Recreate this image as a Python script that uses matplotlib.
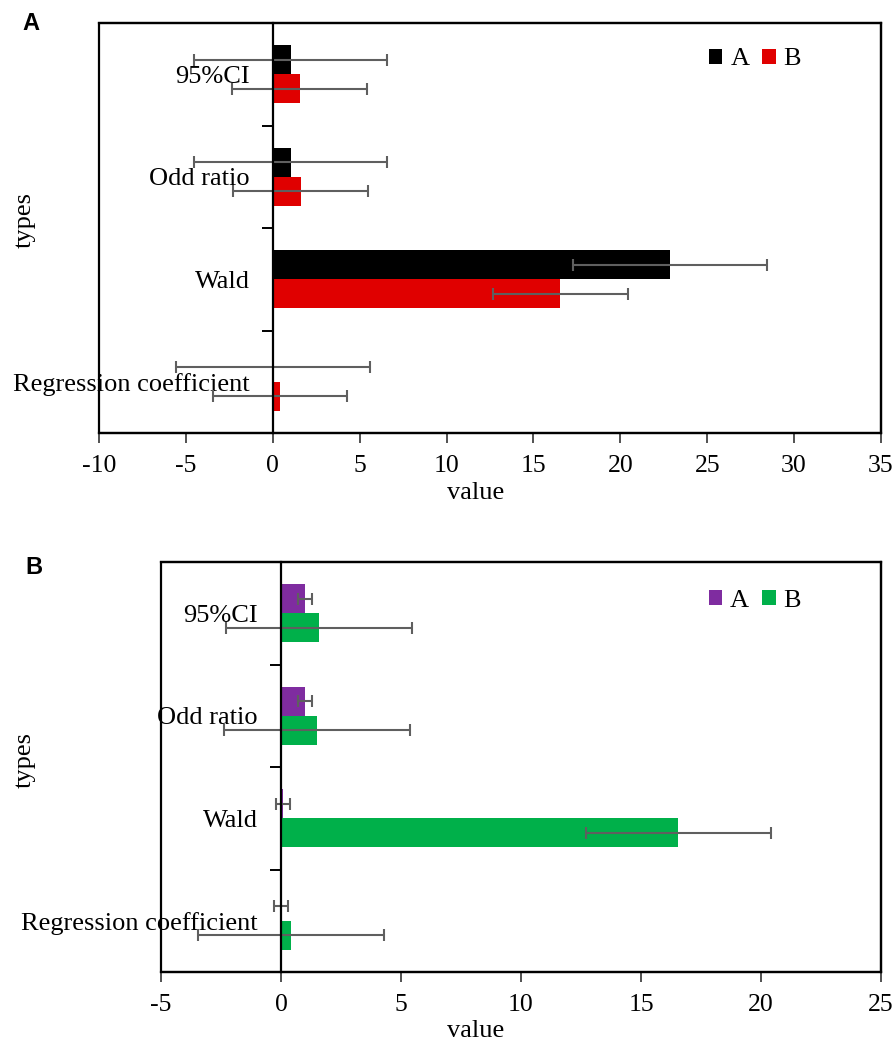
import matplotlib
matplotlib.use("Agg")
import matplotlib.pyplot as plt
import numpy as np
from matplotlib.patches import Rectangle, Patch

plt.rcParams['font.family'] = ['Liberation Serif', 'DejaVu Serif']

categories = ["Regression coefficient", "Wald", "Odd ratio", "95%CI"]
series_names = ["A", "B"]

# Panel A
a_vals_A = [0.01, 22.85, 1.02, 1.02]
a_err_A = [5.57, 5.57, 5.57, 5.57]
a_vals_B = [0.42, 16.55, 1.6, 1.55]
a_err_B = [3.87, 3.87, 3.87, 3.87]

# Panel B
b_vals_A = [0.01, 0.08, 1.0, 1.0]
b_err_A = [0.3, 0.3, 0.3, 0.3]
b_vals_B = [0.43, 16.56, 1.5, 1.57]
b_err_B = [3.87, 3.87, 3.87, 3.87]

xticks_A = [-10, -5, 0, 5, 10, 15, 20, 25, 30, 35]
xticks_B = [-5, 0, 5, 10, 15, 20, 25]

W, H = 895, 1042
fig = plt.figure(figsize=(W / 100, H / 100), dpi=100)


def panel(rect, valsA, errA, valsB, errB, colA, colB, xticks, legxy, xlabxy, ylabxy):
    ax = fig.add_axes(rect)
    y = np.arange(len(categories))
    h = 0.283
    ebkw = dict(ecolor='#5f5f5f', elinewidth=1.5, capsize=4.2, capthick=1.5)
    ax.barh(y + h / 2, valsA, height=h, color=colA, xerr=errA, error_kw=ebkw, zorder=2, label=series_names[0])
    ax.barh(y - h / 2, valsB, height=h, color=colB, xerr=errB, error_kw=ebkw, zorder=2, label=series_names[1])
    ax.set_xlim(xticks[0], xticks[-1])
    ax.set_ylim(-0.5, len(categories) - 0.5)
    ax.set_xticks(xticks)
    ax.set_xticklabels([str(t) for t in xticks], fontsize=18.5)
    ax.tick_params(axis='x', direction='out', length=7, width=1.2, pad=8.5, color='#333333')
    # y-axis at zero
    ax.spines['left'].set_position(('data', 0))
    ax.spines['left'].set_linewidth(1.6)
    for s in ['top', 'right', 'bottom']:
        ax.spines[s].set_linewidth(1.6)
    ax.add_patch(Rectangle((0, 0), 1, 1, transform=ax.transAxes, fill=False,
                           lw=1.6, edgecolor='black', zorder=5, clip_on=False))
    ax.set_yticks(y[:-1] + 0.5)
    ax.set_yticklabels([])
    ax.tick_params(axis='y', which='major', direction='out', length=8, width=1.4)
    ax.set_yticks(y, minor=True)
    ax.set_yticklabels(categories, minor=True, fontsize=19)
    ax.tick_params(axis='y', which='minor', length=0, pad=16.5)
    ax.set_xlabel('value', fontsize=19)
    ax.xaxis.set_label_coords(*xlabxy)
    ax.set_ylabel('types', fontsize=19)
    ax.yaxis.set_label_coords(*ylabxy)
    handles = [Patch(facecolor=colA), Patch(facecolor=colB)]
    ax.legend(handles, series_names, loc='center', bbox_to_anchor=legxy, ncol=2, frameon=False,
              fontsize=19, handlelength=0.5, handleheight=0.5, handletextpad=0.3,
              columnspacing=0.5, borderpad=0)
    return ax


axA = panel([99 / W, 1 - 433 / H, 782 / W, 410 / H],
            a_vals_A, a_err_A, a_vals_B, a_err_B, '#000000', '#E00000', xticks_A,
            (0.839, 0.911), (0.482, -0.12), (-0.0806, 0.52))
axB = panel([161 / W, 1 - 972 / H, 720 / W, 410 / H],
            b_vals_A, b_err_A, b_vals_B, b_err_B, '#7F2CA0', '#00B04A', xticks_B,
            (0.825, 0.906), (0.4375, -0.116), (-0.1736, 0.517))

fig.text(22 / W, 1 - 24 / H, 'A', fontsize=17, fontweight='bold',
         family=['Liberation Sans', 'DejaVu Sans'], va='center', ha='left')
fig.text(25 / W, 1 - 568 / H, 'B', fontsize=17, fontweight='bold',
         family=['Liberation Sans', 'DejaVu Sans'], va='center', ha='left')

fig.savefig('out.png', dpi=100)
